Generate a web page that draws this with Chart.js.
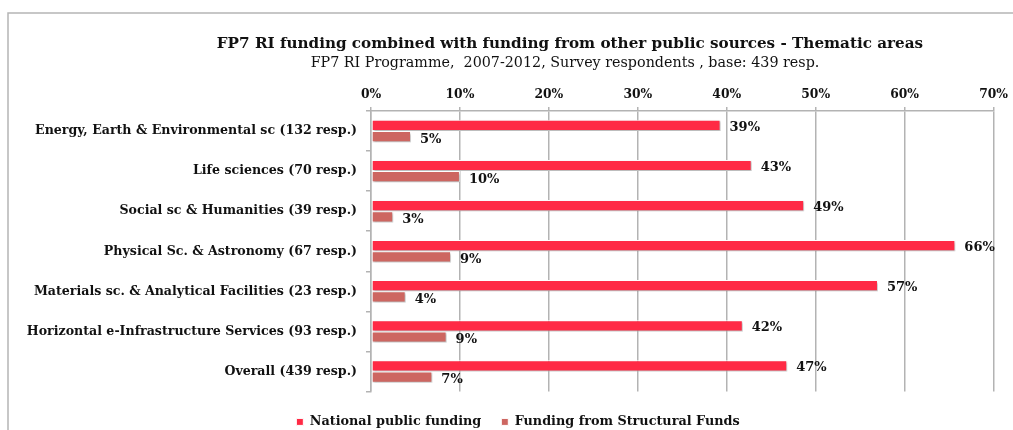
<!DOCTYPE html>
<html>
<head>
<meta charset="utf-8">
<script src="https://cdn.jsdelivr.net/npm/chart.js@4.4.1/dist/chart.umd.min.js"></script>
<style>
  html, body { margin: 0; padding: 0; background: #fff; }
  #wrap { position: relative; width: 1013px; height: 430px; }
</style>
</head>
<body>
<div id="wrap"><canvas id="c" width="1013" height="430"></canvas></div>
<script>
const categories = [
  "Energy, Earth & Environmental sc (132 resp.)",
  "Life sciences (70 resp.)",
  "Social sc & Humanities (39 resp.)",
  "Physical Sc. & Astronomy (67 resp.)",
  "Materials sc. & Analytical Facilities (23 resp.)",
  "Horizontal e-Infrastructure Services (93 resp.)",
  "Overall (439 resp.)"
];
const nationalFunding = [39.3, 42.8, 48.7, 65.7, 57.0, 41.8, 46.8];
const structuralFunds = [4.5, 10.0, 2.5, 9.0, 3.9, 8.5, 6.9];
const seriesNames = ["National public funding", "Funding from Structural Funds"];
const xTicks = [0, 10, 20, 30, 40, 50, 60, 70];
const titleText = "FP7 RI funding combined with funding from other public sources - Thematic areas";
const subtitleText = "FP7 RI Programme,  2007-2012, Survey respondents , base: 439 resp.";

const FONT = "'DejaVu Serif', 'Liberation Serif', serif";

const framePlugin = {
  id: 'frame',
  afterLayout(chart) {
    if (chart.legend) {
      chart.legend.left += 40;
      chart.legend.top += 4;
    }
  },
  beforeDraw(chart) {
    const ctx = chart.ctx;
    ctx.save();
    ctx.fillStyle = '#fff';
    ctx.fillRect(0, 0, chart.width, chart.height);
    ctx.strokeStyle = '#b5b5b5';
    ctx.lineWidth = 1.5;
    ctx.beginPath();
    ctx.moveTo(8, chart.height);
    ctx.lineTo(8, 13);
    ctx.lineTo(chart.width, 13);
    ctx.stroke();
    ctx.restore();
  },
  afterDraw(chart) {
    const ctx = chart.ctx;
    ctx.save();
    ctx.fillStyle = '#111';
    ctx.textAlign = 'center';
    ctx.textBaseline = 'middle';
    ctx.font = "bold 15.2px " + FONT;
    ctx.fillText(titleText, 570, 44);
    ctx.font = "14.3px " + FONT;
    ctx.fillText(subtitleText, 565, 63);
    ctx.restore();
  }
};

const shadowPlugin = {
  id: 'barShadow',
  beforeDatasetsDraw(chart) {
    const ctx = chart.ctx;
    ctx.save();
    ctx.shadowColor = 'rgba(0,0,0,0.28)';
    ctx.shadowOffsetX = 1;
    ctx.shadowOffsetY = 1.5;
    ctx.shadowBlur = 2;
  },
  afterDatasetsDraw(chart) {
    chart.ctx.restore();
  }
};

const labelPlugin = {
  id: 'valueLabels',
  afterDatasetsDraw(chart) {
    const ctx = chart.ctx;
    ctx.save();
    ctx.fillStyle = '#111';
    ctx.font = "bold 13px " + FONT;
    ctx.textAlign = 'left';
    ctx.textBaseline = 'middle';
    chart.data.datasets.forEach((ds, di) => {
      const meta = chart.getDatasetMeta(di);
      meta.data.forEach((bar, i) => {
        const yOff = di === 0 ? 2 : 3;
        ctx.fillText(Math.round(ds.data[i]) + '%', bar.x + 9, bar.y + yOff);
      });
    });
    ctx.restore();
  }
};

new Chart(document.getElementById('c'), {
  type: 'bar',
  data: {
    labels: categories,
    datasets: [
      {
        label: seriesNames[0],
        data: nationalFunding,
        backgroundColor: '#ff2a45',
        borderColor: '#ffffff',
        borderWidth: 1,
        borderSkipped: false,
        barPercentage: 1,
        categoryPercentage: 0.56
      },
      {
        label: seriesNames[1],
        data: structuralFunds,
        backgroundColor: '#cd6661',
        borderColor: '#ffffff',
        borderWidth: 1,
        borderSkipped: false,
        barPercentage: 1,
        categoryPercentage: 0.56
      }
    ]
  },
  options: {
    indexAxis: 'y',
    responsive: false,
    animation: false,
    devicePixelRatio: 1,
    layout: { padding: { left: 0, right: 17, top: 72, bottom: 0 } },
    scales: {
      x: {
        position: 'top',
        min: 0,
        max: 70,
        afterBuildTicks(scale) {
          scale.ticks = xTicks.map(v => ({ value: v }));
        },
        afterFit(scale) { scale.height = 39; },
        ticks: {
          callback: v => v + '%',
          font: { family: FONT, weight: 'bold', size: 12.3 },
          color: '#111',
          padding: 5,
          maxRotation: 0
        },
        grid: {
          color: '#b3b3b3',
          lineWidth: 1.5,
          tickLength: 4,
          drawTicks: true
        },
        border: { color: '#b3b3b3', width: 1.5 }
      },
      y: {
        afterFit(scale) { scale.width = 371; },
        ticks: {
          font: { family: FONT, weight: 'bold', size: 12.6 },
          color: '#111',
          padding: 9
        },
        grid: {
          drawOnChartArea: false,
          color: '#b3b3b3',
          lineWidth: 1.5,
          tickLength: 5,
          offset: true
        },
        border: { color: '#b3b3b3', width: 1.5 }
      }
    },
    plugins: {
      title: { display: false },
      legend: {
        position: 'bottom',
        maxHeight: 38.5,
        labels: {
          boxWidth: 7,
          boxHeight: 7,
          padding: 20,
          font: { family: FONT, weight: 'bold', size: 12.8 },
          color: '#111'
        }
      },
      tooltip: { enabled: false }
    }
  },
  plugins: [framePlugin, shadowPlugin, labelPlugin]
});
</script>
</body>
</html>
